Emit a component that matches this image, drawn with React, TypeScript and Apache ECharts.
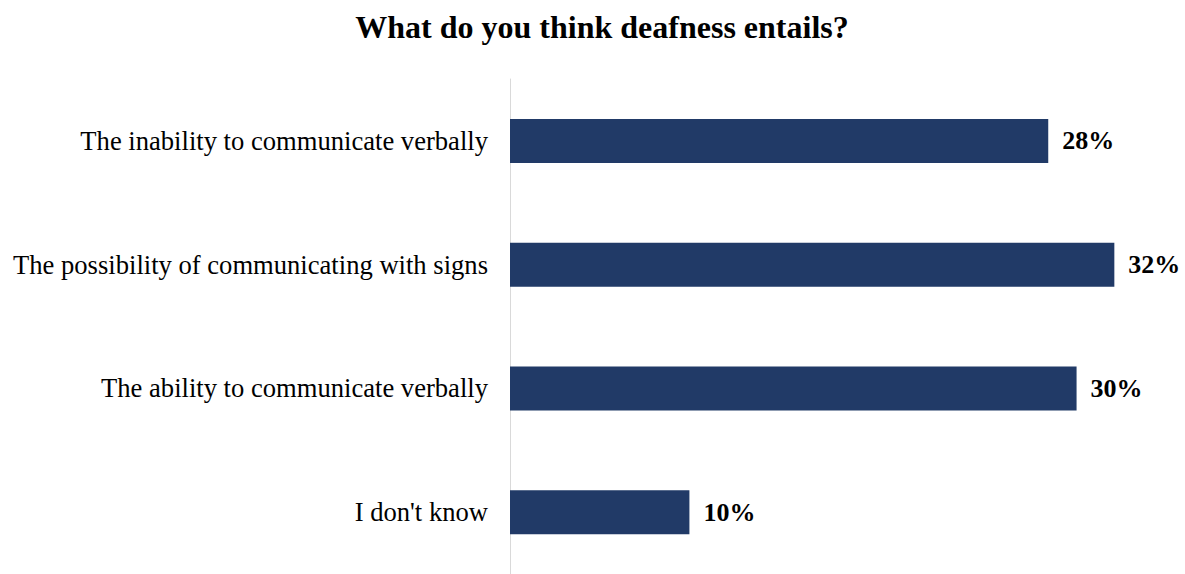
import React, { useEffect, useRef } from "react";
import * as echarts from "echarts";

const categories = [
  "The inability to communicate verbally",
  "The possibility of communicating with signs",
  "The ability to communicate verbally",
  "I don't know",
];
const values = [28.5, 32, 30, 9.5];
const valueLabels = ["28%", "32%", "30%", "10%"];
const titleText = "What do you think deafness entails?";

export default function App() {
  const ref = useRef<HTMLDivElement>(null);
  useEffect(() => {
    if (!ref.current) return;
    const chart = echarts.init(ref.current, null, { renderer: "svg" });
    chart.setOption({
      animation: false,
      backgroundColor: "#ffffff",
      title: {
        text: titleText,
        left: 597,
        textAlign: "center",
        top: 6,
        textStyle: {
          fontFamily: "Liberation Serif",
          fontWeight: "bold",
          fontSize: 32,
          color: "#000000",
        },
      },
      grid: { left: 510, right: 14, top: 79, bottom: -8, containLabel: false },
      xAxis: {
        type: "value",
        min: 0,
        max: 35,
        show: false,
      },
      yAxis: {
        type: "category",
        data: categories,
        inverse: true,
        axisLine: { show: true, lineStyle: { color: "#d9d9d9", width: 1 } },
        axisTick: { show: false },
        axisLabel: {
          margin: 22,
          fontFamily: "Liberation Serif",
          fontSize: 26.6,
          color: "#000000",
        },
      },
      series: [
        {
          type: "bar",
          data: values,
          barWidth: 44,
          itemStyle: { color: "#213a67" },
          label: {
            show: true,
            position: "right",
            distance: 14,
            formatter: (p: any) => valueLabels[p.dataIndex],
            fontFamily: "Liberation Serif",
            fontWeight: "bold",
            fontSize: 26,
            color: "#000000",
          },
        },
      ],
    });
    return () => chart.dispose();
  }, []);
  return (
    <div
      ref={ref}
      style={{ position: "absolute", left: 0, top: 0, width: 1185, height: 574 }}
    />
  );
}
